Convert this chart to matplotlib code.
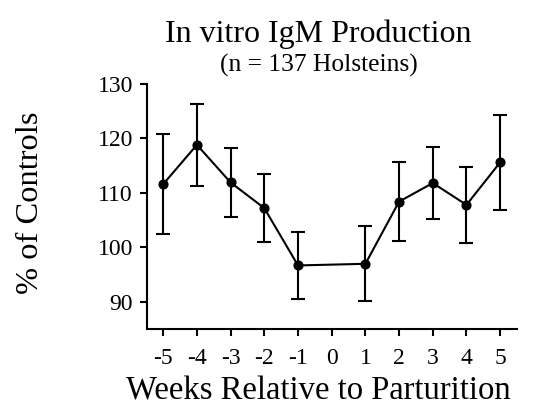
import matplotlib
matplotlib.use("Agg")
import matplotlib.pyplot as plt

weeks = [-5, -4, -3, -2, -1, 1, 2, 3, 4, 5]
pct_controls = [111.6, 118.8, 111.9, 107.2, 96.7, 97.0, 108.4, 111.8, 107.8, 115.6]
err = [9.1, 7.5, 6.4, 6.2, 6.2, 6.9, 7.3, 6.6, 7.0, 8.7]
xticks = [-5, -4, -3, -2, -1, 0, 1, 2, 3, 4, 5]
yticks = [90, 100, 110, 120, 130]

plt.rcParams['font.family'] = ['Liberation Serif', 'DejaVu Serif']

W, H = 539, 408
fig = plt.figure(figsize=(W / 100, H / 100), dpi=100)
ax = fig.add_axes([146.7 / W, (H - 329.3) / H, 370 / W, 245.6 / H])

ax.errorbar(weeks, pct_controls, yerr=err, color='black', lw=1.5,
            marker='o', ms=6.3, capsize=4.8, capthick=1.5, elinewidth=1.5)

ax.set_xlim(-5.49, 5.49)
ax.set_ylim(85, 130)
ax.set_xticks(xticks)
ax.set_xticklabels([str(t) for t in xticks])
ax.set_yticks(yticks)
ax.spines['top'].set_visible(False)
ax.spines['right'].set_visible(False)
for s in ('left', 'bottom'):
    ax.spines[s].set_linewidth(1.5)
ax.tick_params(axis='both', direction='out', length=5, width=1.5, labelsize=17)
ax.tick_params(axis='x', pad=8.5)
ax.tick_params(axis='y', pad=5)

fig.text(318 / W, (H - 400) / H, 'Weeks Relative to Parturition',
         ha='center', va='baseline', fontsize=23.5)
fig.text(30.5 / W, (H - 202.5) / H, '% of Controls', rotation=90,
         ha='center', va='center', fontsize=23.4)

fig.text(318 / W, (H - 42) / H, 'In vitro IgM Production', ha='center', va='baseline', fontsize=23)
fig.text(318.5 / W, (H - 72) / H, '(n = 137 Holsteins)', ha='center', va='baseline', fontsize=18.4)

fig.savefig('out.png', dpi=100)
